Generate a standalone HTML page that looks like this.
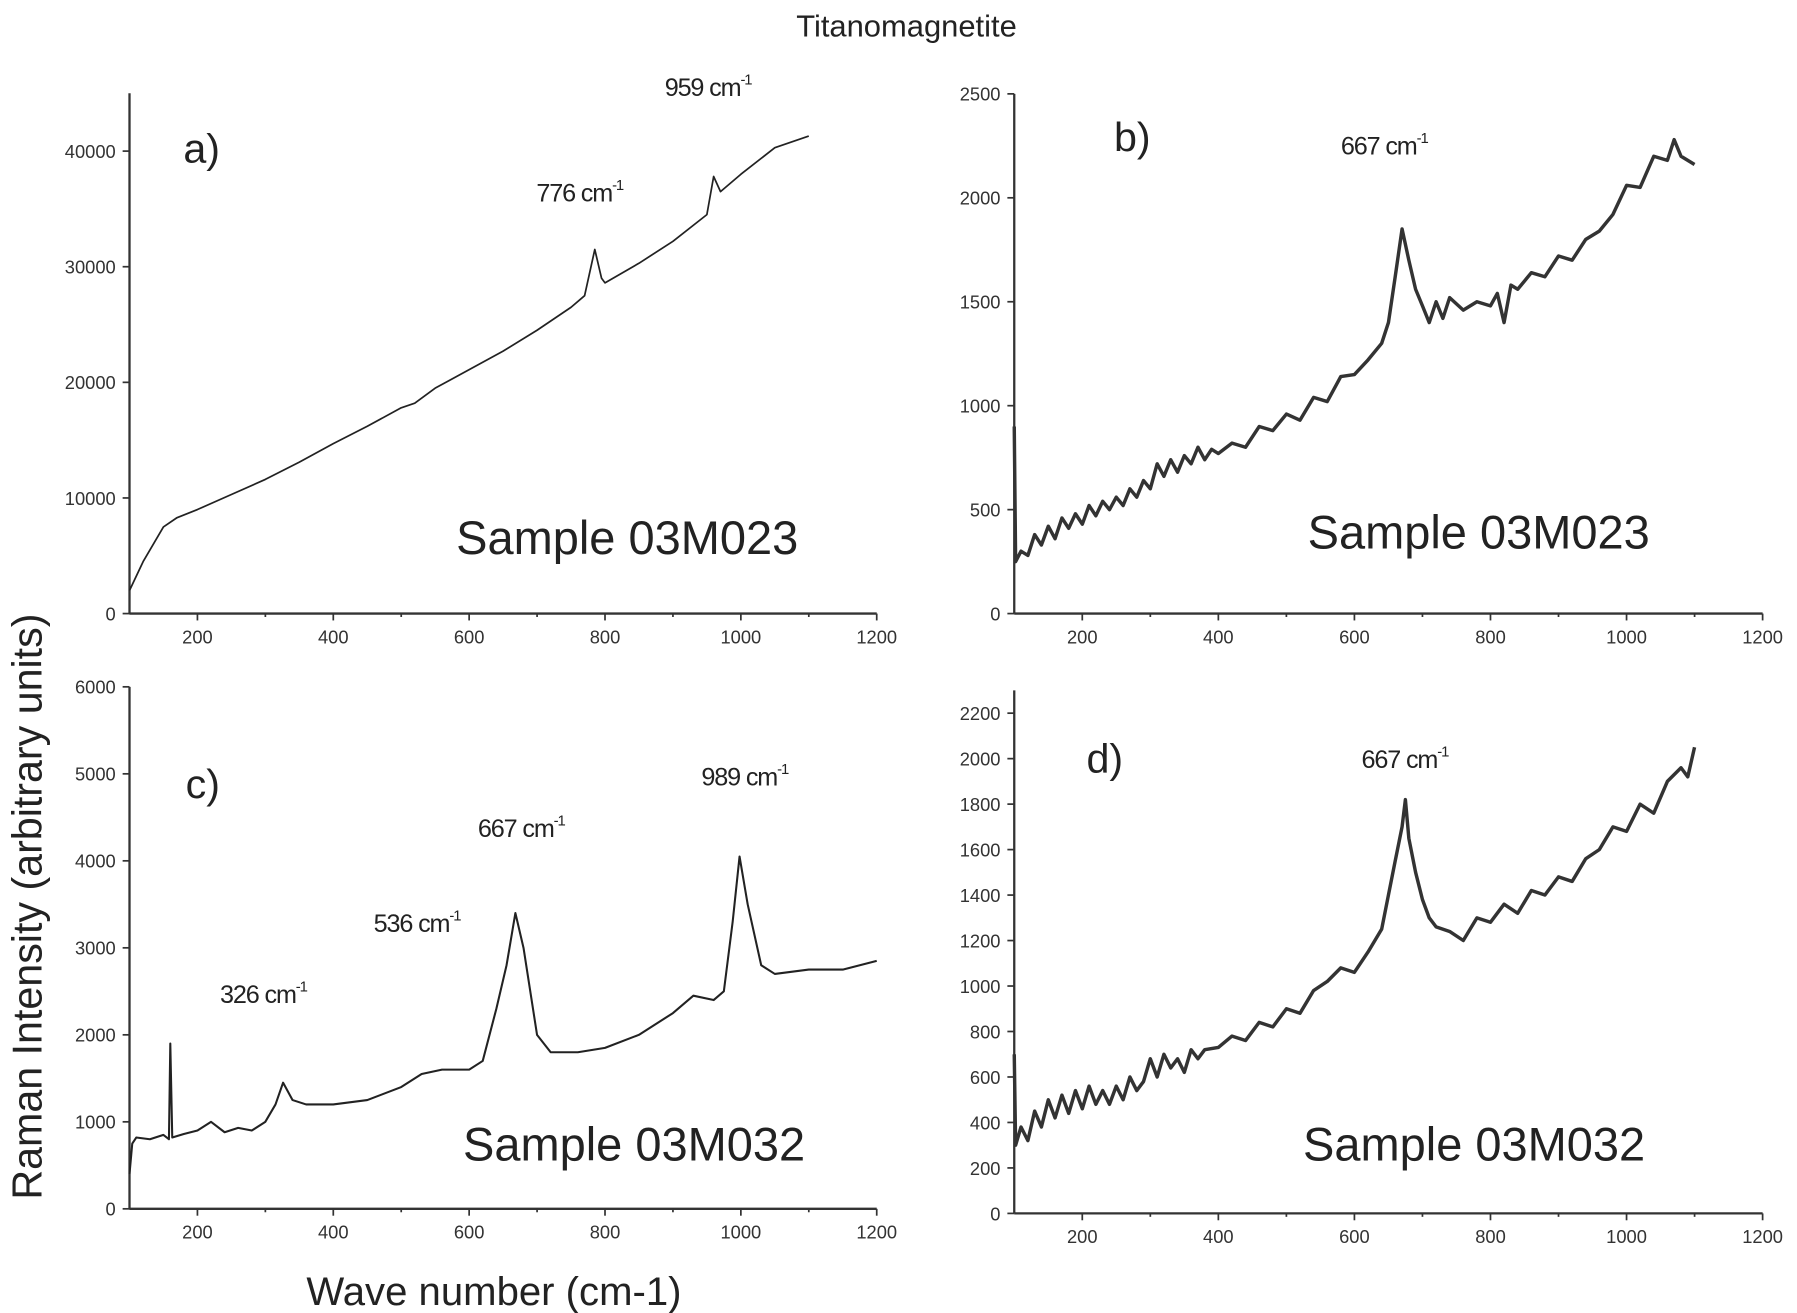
<!DOCTYPE html>
<html><head><meta charset="utf-8"><style>
html,body{margin:0;padding:0;background:#fff;}
svg{display:block;font-family:"Liberation Sans",sans-serif;}
</style></head><body>
<svg id="fig" width="1797" height="1313" viewBox="0 0 1568 1147" preserveAspectRatio="none" xmlns="http://www.w3.org/2000/svg">
<text x="791" y="32" font-size="27" text-anchor="middle" fill="#222">Titanomagnetite</text>
<text transform="translate(36,792) rotate(-90)" font-size="36" text-anchor="middle" fill="#222">Raman Intensity (arbitrary units)</text>
<text x="431" y="1140" font-size="35" text-anchor="middle" fill="#222">Wave number (cm-1)</text>
</svg>
<script>
const xA=[100,120,150,170,200,250,300,350,400,450,500,520,550,600,650,700,750,770,785,795,800,850,900,950,960,970,1000,1050,1100];
const yA=[2000,4500,7500,8300,9000,10300,11600,13100,14700,16200,17800,18200,19500,21100,22700,24500,26500,27500,31500,29000,28600,30300,32200,34500,37800,36500,38000,40300,41300];
const xB=[100,102,110,120,130,140,150,160,170,180,190,200,210,220,230,240,250,260,270,280,290,300,310,320,330,340,350,360,370,380,390,400,420,440,460,480,500,520,540,560,580,600,620,640,650,660,670,680,690,700,710,720,730,740,760,780,800,810,820,830,840,860,880,900,920,940,960,980,1000,1020,1040,1060,1070,1080,1100];
const yB=[900,250,300,280,380,330,420,360,460,410,480,430,520,470,540,500,560,520,600,560,640,600,720,660,740,680,760,720,800,740,790,770,820,800,900,880,960,930,1040,1020,1140,1150,1220,1300,1400,1620,1850,1700,1560,1480,1400,1500,1420,1520,1460,1500,1480,1540,1400,1580,1560,1640,1620,1720,1700,1800,1840,1920,2060,2050,2200,2180,2280,2200,2160];
const xC=[100,104,110,130,150,158,160,163,180,200,220,240,260,280,300,315,326,340,360,400,450,500,530,560,600,620,640,655,668,680,700,720,760,800,850,900,930,960,975,988,998,1010,1030,1050,1100,1150,1200];
const yC=[400,750,820,800,850,800,1900,820,860,900,1000,880,930,900,1000,1200,1450,1250,1200,1200,1250,1400,1550,1600,1600,1700,2300,2800,3400,3000,2000,1800,1800,1850,2000,2250,2450,2400,2500,3300,4050,3500,2800,2700,2750,2750,2850];
const xD=[100,102,110,120,130,140,150,160,170,180,190,200,210,220,230,240,250,260,270,280,290,300,310,320,330,340,350,360,370,380,400,420,440,460,480,500,520,540,560,580,600,620,640,650,660,670,675,680,690,700,710,720,740,760,780,800,820,840,860,880,900,920,940,960,980,1000,1020,1040,1060,1080,1090,1100];
const yD=[700,300,380,320,450,380,500,420,520,440,540,460,560,480,540,480,560,500,600,540,580,680,600,700,640,680,620,720,680,720,730,780,760,840,820,900,880,980,1020,1080,1060,1150,1250,1400,1550,1700,1820,1650,1500,1380,1300,1260,1240,1200,1300,1280,1360,1320,1420,1400,1480,1460,1560,1600,1700,1680,1800,1760,1900,1960,1920,2050];

const svg=document.getElementById('fig');
const NS='http://www.w3.org/2000/svg';
function mk(tag,attrs){const e=document.createElementNS(NS,tag);for(const k in attrs)e.setAttribute(k,attrs[k]);svg.appendChild(e);return e;}

function panel(id,x0,x1,y0,y1,ymax,ymaxTop,yticks,xs,ys,label,lx,ly,sx,sy,sample,annots,sw,col){
  const xmin=100,xmax=1200;
  const X=v=>x0+(v-xmin)/(xmax-xmin)*(x1-x0);
  const Y=v=>y0-v/ymax*(y0-y1);
  const top=Y(ymaxTop);
  let e=mk('line',{x1:x0,y1:y0,x2:x1,y2:y0,stroke:'#333','stroke-width':2});
  
  
  e=mk('line',{x1:x0,y1:y0,x2:x0,y2:top,stroke:'#333','stroke-width':2});
  
  
  for(let v=200;v<=1200;v+=100){
    const major=v%200===0;
    e=mk('line',{x1:X(v),y1:y0,x2:X(v),y2:y0+(major?6:3),stroke:'#333','stroke-width':1.5});
    
    
    if(major){
      e=mk('text',{x:X(v),y:y0+26,'font-size':16,'text-anchor':'middle',fill:'#333'});
      e.textContent=v;
      
      
    }
  }
  for(const v of yticks){
    e=mk('line',{x1:x0-6,y1:Y(v),x2:x0,y2:Y(v),stroke:'#333','stroke-width':1.5});
    
    
    e=mk('text',{x:x0-12,y:Y(v)+6,'font-size':16,'text-anchor':'end',fill:'#333'});
    e.textContent=v;
    
    
  }
  let d='';
  xs.forEach((v,i)=>{d+=(i?'L':'M')+X(v).toFixed(1)+' '+Y(ys[i]).toFixed(1);});
  e=mk('path',{d:d,fill:'none',stroke:col,'stroke-width':sw,'stroke-linejoin':'round'});
  
  
  e=mk('text',{x:lx,y:ly,'font-size':36,fill:'#222'});
  e.textContent=label;
  
  
  e=mk('text',{x:sx,y:sy,'font-size':41,fill:'#222'});
  e.textContent=sample;
  
  
  annots.forEach(a=>{
    const t=mk('text',{x:a[1],y:a[2],'font-size':22,fill:'#222','letter-spacing':'-1'});
    t.textContent=a[0]+' cm';
    const s=document.createElementNS(NS,'tspan');
    s.setAttribute('dy','-10');s.setAttribute('font-size','13');s.textContent='-1';
    t.appendChild(s);
    
    
  });
}
panel('panel-a',113,765,536,132,40000,45000,[0,10000,20000,30000,40000],xA,yA,'a)',160,142,398,484,'Sample 03M023',[['776',468,176],['959',580,84]],1.5,'#222');
panel('panel-b',885,1538,536,82,2500,2500,[0,500,1000,1500,2000,2500],xB,yB,'b)',972,132,1141,479,'Sample 03M023',[['667',1170,135]],3,'#333');
panel('panel-c',113,765,1056,600,6000,6000,[0,1000,2000,3000,4000,5000,6000],xC,yC,'c)',162,697,404,1014,'Sample 03M032',[['989',612,686],['667',417,731],['536',326,814],['326',192,876]],1.8,'#222');
panel('panel-d',885,1538,1060,623,2200,2300,[0,200,400,600,800,1000,1200,1400,1600,1800,2000,2200],xD,yD,'d)',948,675,1137,1014,'Sample 03M032',[['667',1188,671]],3,'#333');
</script>
</body></html>
